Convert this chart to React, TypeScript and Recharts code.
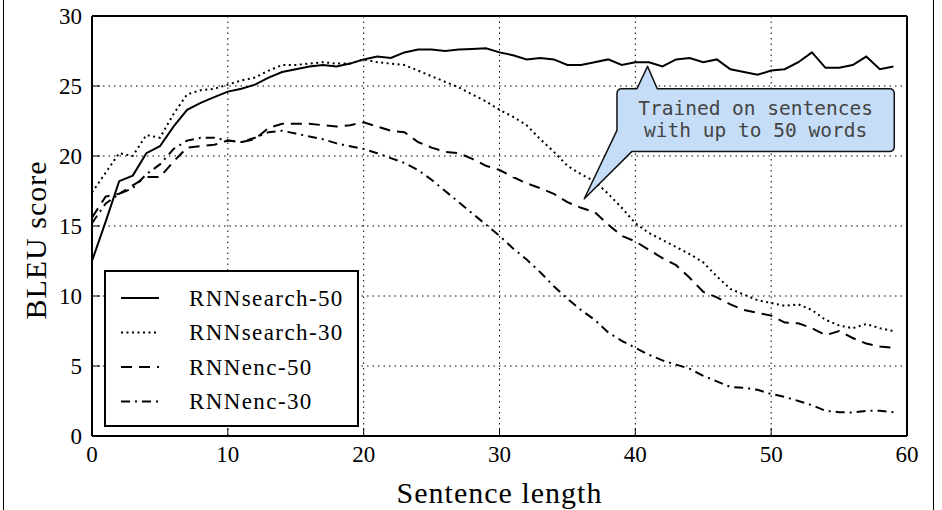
import React from 'react';
import { LineChart, Line, XAxis, YAxis, CartesianGrid, Legend, ReferenceDot } from 'recharts';

const lengths = [0,1,2,3,4,5,6,7,8,9,10,11,12,13,14,15,16,17,18,19,20,21,22,23,24,25,26,27,28,29,30,31,32,33,34,35,36,37,38,39,40,41,42,43,44,45,46,47,48,49,50,51,52,53,54,55,56,57,58,59];

const rnnsearch50 = [12.5,15.3,18.2,18.6,20.2,20.7,22.1,23.3,23.8,24.2,24.6,24.8,25.1,25.6,26.0,26.2,26.4,26.5,26.4,26.6,26.9,27.1,27.0,27.4,27.6,27.6,27.5,27.6,27.65,27.7,27.4,27.2,26.9,27.0,26.9,26.5,26.5,26.7,26.9,26.5,26.7,26.7,26.4,26.9,27.0,26.7,26.9,26.2,26.0,25.8,26.1,26.2,26.7,27.4,26.3,26.3,26.5,27.1,26.2,26.4];
const rnnsearch30 = [17.4,18.8,20.2,20.0,21.5,21.3,23.0,24.4,24.7,24.8,25.1,25.4,25.6,26.1,26.5,26.5,26.6,26.7,26.6,26.6,26.9,26.7,26.6,26.5,26.1,25.7,25.3,24.9,24.4,23.9,23.3,22.8,22.2,21.2,20.3,19.3,18.7,18.2,17.3,16.3,15.2,14.5,14.0,13.5,13.0,12.4,11.4,10.5,10.1,9.7,9.5,9.3,9.4,9.0,8.3,7.9,7.7,8.0,7.7,7.5];
const rnnenc50 = [15.6,17.1,17.3,17.9,18.5,18.5,19.6,20.6,20.7,20.8,21.1,21.0,21.2,22.0,22.3,22.3,22.3,22.2,22.1,22.2,22.4,22.1,21.8,21.7,21.0,20.6,20.3,20.2,19.8,19.3,19.0,18.5,18.05,17.7,17.3,16.7,16.3,16.0,15.1,14.3,13.9,13.3,12.7,12.2,11.3,10.3,9.9,9.4,9.0,8.8,8.6,8.1,8.05,7.7,7.2,7.5,7.0,6.6,6.4,6.3];
const rnnenc30 = [15.2,16.6,17.3,17.7,18.7,19.4,20.5,21.1,21.3,21.3,21.1,21.0,21.3,21.7,21.8,21.6,21.4,21.2,20.9,20.7,20.5,20.2,19.85,19.5,19.0,18.3,17.5,16.7,15.9,15.1,14.3,13.4,12.6,11.7,10.7,9.8,9.0,8.3,7.4,6.8,6.3,5.8,5.4,5.1,4.8,4.3,3.9,3.5,3.45,3.3,3.0,2.8,2.5,2.2,1.8,1.7,1.67,1.8,1.8,1.7];

const xTicks = [0, 10, 20, 30, 40, 50, 60];
const yTicks = [0, 5, 10, 15, 20, 25, 30];

const seriesNames = ['RNNsearch-50', 'RNNsearch-30', 'RNNenc-50', 'RNNenc-30'];
const annotationLines = ['Trained on sentences', 'with up to 50 words'];
const annotationTip = { x: 40.9, y: 26.4 };

const data = lengths.map((len, i) => ({
  len,
  s50: rnnsearch50[i],
  s30: rnnsearch30[i],
  e50: rnnenc50[i],
  e30: rnnenc30[i],
}));

const series = [
  { key: 's50', name: seriesNames[0], dash: undefined as string | undefined },
  { key: 's30', name: seriesNames[1], dash: '2 3.5' },
  { key: 'e50', name: seriesNames[2], dash: '11 7' },
  { key: 'e30', name: seriesNames[3], dash: '9 5 2 5' },
];

const SERIF = '"Liberation Serif", "Times New Roman", serif';

const LegendBox = () => (
  <svg width={255} height={157} style={{ display: 'block' }}>
    <rect x={1} y={1} width={253} height={155} fill="#fff" stroke="#000" strokeWidth={2} />
    {series.map((s, i) => {
      const cy = 28 + i * 34.5;
      return (
        <g key={s.key}>
          <line x1={17} x2={55} y1={cy} y2={cy} stroke="#000" strokeWidth={2} strokeDasharray={s.dash} />
          <text x={85} y={cy} dominantBaseline="central" fontFamily={SERIF} fontSize={23} letterSpacing={1.4} fill="#000">
            {s.name}
          </text>
        </g>
      );
    })}
  </svg>
);

const Callout = (props: any) => {
  const { cx, cy } = props;
  if (cx == null || cy == null) return null;
  const L = -30.6, R = 246.7, T = 22.3, B = 85, r = 5;
  const d = [
    `M ${cx + L + r} ${cy + T}`,
    `L ${cx - 10.6} ${cy + T}`,
    `L ${cx} ${cy}`,
    `L ${cx + 9.7} ${cy + T}`,
    `L ${cx + R - r} ${cy + T}`,
    `Q ${cx + R} ${cy + T} ${cx + R} ${cy + T + r}`,
    `L ${cx + R} ${cy + B - r}`,
    `Q ${cx + R} ${cy + B} ${cx + R - r} ${cy + B}`,
    `L ${cx - 15.6} ${cy + B}`,
    `L ${cx - 63.3} ${cy + 132.3}`,
    `L ${cx + L} ${cy + 64}`,
    `L ${cx + L} ${cy + T + r}`,
    `Q ${cx + L} ${cy + T} ${cx + L + r} ${cy + T}`,
    'Z',
  ].join(' ');
  const tx = cx + (L + R) / 2;
  return (
    <g>
      <path d={d} fill="#c6ddf8" stroke="#111" strokeWidth={1.5} strokeLinejoin="round" />
      {annotationLines.map((t, i) => (
        <text key={i} x={tx} y={cy + 42.3 + i * 21.7} textAnchor="middle" dominantBaseline="central"
          fontFamily='"DejaVu Sans Mono", monospace' fontSize={19.5} fill="#444">
          {t}
        </text>
      ))}
    </g>
  );
};

const YLabel = (props: any) => {
  const vb = props.viewBox || { x: 0, y: 0, width: 0, height: 0 };
  const x = vb.x + 35;
  const y = vb.y + vb.height / 2 + 14;
  return (
    <text x={x} y={y} transform={`rotate(-90 ${x} ${y})`} textAnchor="middle" dominantBaseline="central"
      fontFamily={SERIF} fontSize={30} letterSpacing={1} fill="#000">
      BLEU score
    </text>
  );
};

const XLabel = (props: any) => {
  const vb = props.viewBox || { x: 0, y: 0, width: 0, height: 0 };
  const x = vb.x + vb.width / 2;
  const y = vb.y + 56;
  return (
    <text x={x} y={y} textAnchor="middle" dominantBaseline="central"
      fontFamily={SERIF} fontSize={30} letterSpacing={1} fill="#000">
      Sentence length
    </text>
  );
};

export default function App() {
  const tickStyle = { fill: '#000', fontSize: 23, fontFamily: SERIF };
  const axisLineStyle = { stroke: '#000', strokeWidth: 2 };
  return (
    <div style={{ position: 'absolute', left: 0, top: 0, width: 942, height: 510, background: '#fff' }}>
      <div style={{ position: 'absolute', left: 3, top: 0, width: 931, height: 510, boxSizing: 'border-box', borderLeft: '1px solid #000', borderRight: '1px solid #000' }} />
      <LineChart width={942} height={510} data={data} margin={{ top: 15, right: 34, bottom: 0, left: 0 }}>
        <CartesianGrid stroke="#000" strokeDasharray="1.5 4" strokeWidth={1} />
        <XAxis dataKey="len" type="number" domain={[0, 60]} ticks={xTicks} height={74}
          axisLine={axisLineStyle} tickLine={{ stroke: '#000' }} tickSize={-8} tickMargin={18}
          tick={tickStyle} label={<XLabel />} />
        <XAxis xAxisId="top" orientation="top" type="number" domain={[0, 60]} ticks={xTicks} height={1}
          axisLine={axisLineStyle} tickLine={{ stroke: '#000' }} tickSize={-8} tick={false} />
        <YAxis type="number" domain={[0, 30]} ticks={yTicks} width={92}
          axisLine={axisLineStyle} tickLine={{ stroke: '#000' }} tickSize={-8} tickMargin={18}
          tick={tickStyle} label={<YLabel />} />
        <YAxis yAxisId="right" orientation="right" type="number" domain={[0, 30]} ticks={yTicks} width={1}
          axisLine={axisLineStyle} tickLine={{ stroke: '#000' }} tickSize={-8} tick={false} />
        {series.map((s) => (
          <Line key={s.key} dataKey={s.key} name={s.name} type="linear" stroke="#000" strokeWidth={2}
            strokeDasharray={s.dash} dot={false} activeDot={false} isAnimationActive={false} />
        ))}
        <ReferenceDot x={annotationTip.x} y={annotationTip.y} r={0} shape={<Callout />} ifOverflow="visible" />
        <Legend layout="vertical" align="center" verticalAlign="middle" content={<LegendBox />}
          wrapperStyle={{ position: 'absolute', left: 104, top: 270, width: 255, height: 157 }} />
      </LineChart>
    </div>
  );
}
